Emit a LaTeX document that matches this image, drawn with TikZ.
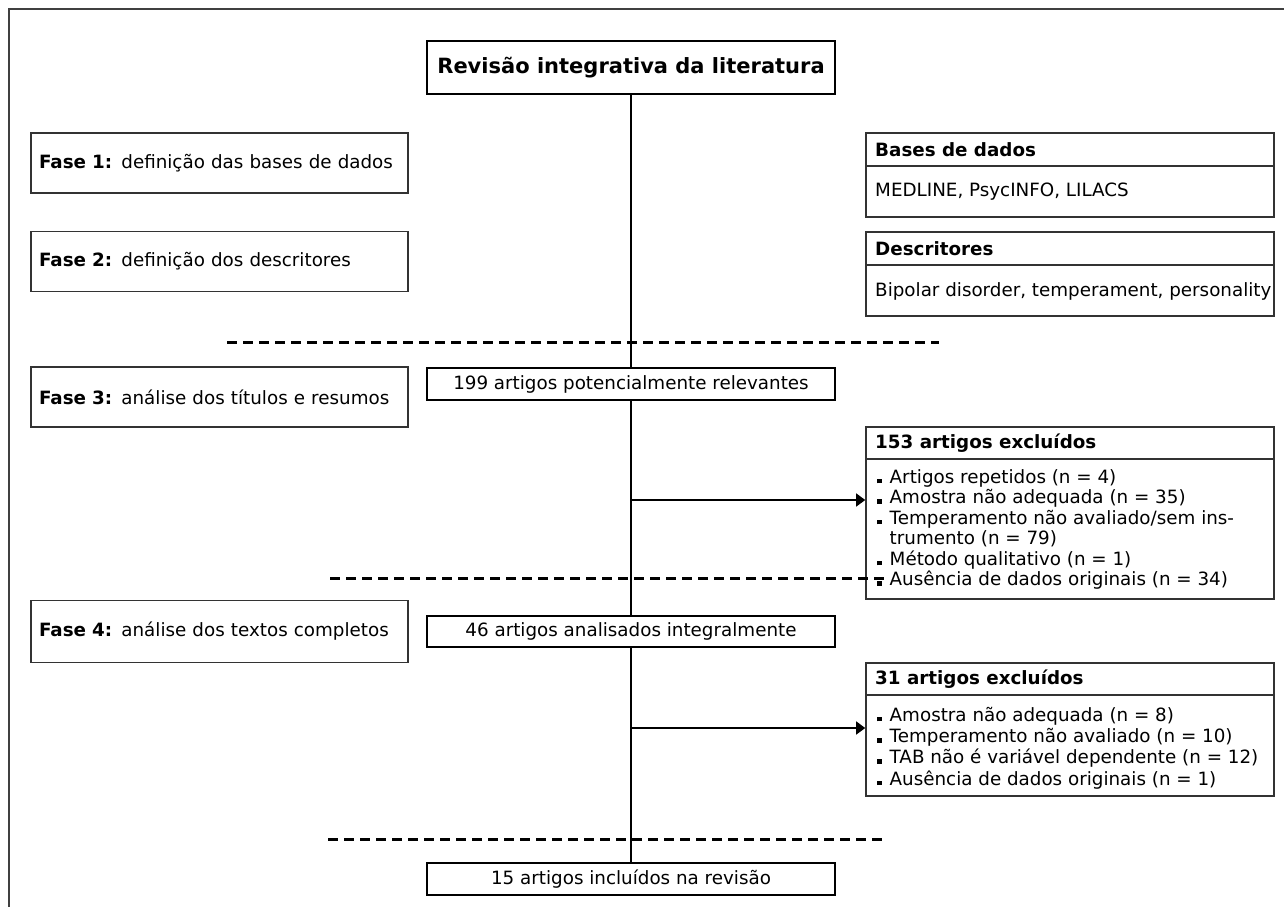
\documentclass[tikz,border=0pt]{standalone}
\usepackage{fontspec}
\setmainfont{DejaVu Sans}
\usetikzlibrary{arrows.meta,calc}
\newcommand{\sqb}{\rule{4.5pt}{4.5pt}\hspace{8pt}}
\begin{document}
\begin{tikzpicture}[x=1pt,y=-1pt,
  every node/.style={font=\fontsize{18.3}{20.5}\selectfont},
  fasebox/.style={draw=black!80, line width=1.6pt, text width=361pt, inner xsep=8pt, inner ysep=0pt, align=left, minimum height=60pt},
  mainbox/.style={draw=black, line width=2.4pt, minimum width=408pt, inner sep=0pt, align=center},
  infobox/.style={draw=black!80, line width=1.6pt, minimum width=408pt, inner sep=0pt},
  divline/.style={black!80, line width=1.6pt},
  lbl/.style={anchor=west, inner sep=0pt, align=left},
  sepline/.style={line width=3pt, dash pattern=on 9.5pt off 6.5pt},
  conn/.style={line width=1.5pt},
  arr/.style={line width=1.5pt, -{Triangle[length=9pt,width=13pt]}}]
\useasboundingbox (0,0) rectangle (1284,907);
\draw[black!75, line width=1.5pt] (1284,9) -- (9,9) -- (9,907);

% central column
\node[mainbox, minimum height=53pt, font=\fontsize{21}{25}\selectfont\bfseries] (title) at (631,67.5) {Revisão integrativa da literatura};
\node[mainbox, minimum height=32pt] (b199) at (631,384) {199 artigos potencialmente relevantes};
\node[mainbox, minimum height=31pt] (b46) at (631,631.5) {46 artigos analisados integralmente};
\node[mainbox, minimum height=32pt] (b15) at (631,879) {15 artigos incluídos na revisão};

% phases
\node[fasebox] (f1) at (219.5,163) {\textbf{Fase 1:} definição das bases de dados};
\node[fasebox] (f2) at (219.5,261.5) {\textbf{Fase 2:} definição dos descritores};
\node[fasebox] (f3) at (219.5,397) {\textbf{Fase 3:} análise dos títulos e resumos};
\node[fasebox, minimum height=62pt] (f4) at (219.5,631.5) {\textbf{Fase 4:} análise dos textos completos};

% right info boxes
\node[infobox, minimum height=84pt] (bases) at (1070,175) {};
\draw[divline] ($(bases.north west)+(0,34)$) -- ($(bases.north east)+(0,34)$);
\node[lbl, font=\fontsize{18.3}{20.5}\selectfont\bfseries] (basesH) at (875,150) {Bases de dados};
\node[lbl] (basesB) at (875,192) {MEDLINE, PsycINFO, LILACS};

\node[infobox, minimum height=84pt] (desc) at (1070,274) {};
\draw[divline] ($(desc.north west)+(0,34)$) -- ($(desc.north east)+(0,34)$);
\node[lbl, font=\fontsize{18.3}{20.5}\selectfont\bfseries] (descH) at (875,249) {Descritores};
\node[lbl] (descB) at (875,291) {Bipolar disorder, temperament, personality};

\node[infobox, minimum height=172pt] (ex1) at (1070,513) {};
\draw[divline] ($(ex1.north west)+(0,33)$) -- ($(ex1.north east)+(0,33)$);
\node[lbl, font=\fontsize{18.3}{20.5}\selectfont\bfseries] (ex1H) at (875,443.5) {153 artigos excluídos};
\node[lbl] (ex1B) at (877,529.5) {\sqb Artigos repetidos (n = 4)\\
\sqb Amostra não adequada (n = 35)\\
\sqb Temperamento não avaliado/sem ins-\\
\hphantom{\sqb}trumento (n = 79)\\
\sqb Método qualitativo (n = 1)\\
\sqb Ausência de dados originais (n = 34)};

\node[infobox, minimum height=133pt] (ex2) at (1070,729.5) {};
\draw[divline] ($(ex2.north west)+(0,33)$) -- ($(ex2.north east)+(0,33)$);
\node[lbl, font=\fontsize{18.3}{20.5}\selectfont\bfseries] (ex2H) at (875,679.5) {31 artigos excluídos};
\node[lbl, font=\fontsize{18.3}{21.3}\selectfont] (ex2B) at (877,748) {\sqb Amostra não adequada (n = 8)\\
\sqb Temperamento não avaliado (n = 10)\\
\sqb TAB não é variável dependente (n = 12)\\
\sqb Ausência de dados originais (n = 1)};

% connectors
\draw[conn] (title.south) -- (b199.north);
\draw[conn] (b199.south) -- (b46.north);
\draw[conn] (b46.south) -- (b15.north);
\coordinate (br1) at (631,500);
\coordinate (br2) at (631,728);
\draw[arr] (br1) -- (br1 -| ex1.west);
\draw[arr] (br2) -- (br2 -| ex2.west);

% separators
\draw[sepline] (227,342) -- (939,342);
\draw[sepline] (330,578) -- (890,578);
\draw[sepline] (328,839) -- (887,839);
\end{tikzpicture}
\end{document}
